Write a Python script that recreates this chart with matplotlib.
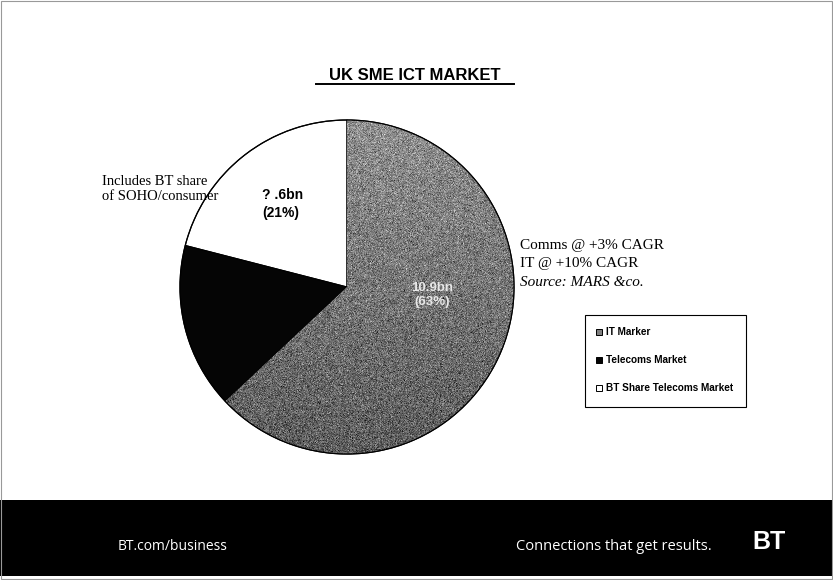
import numpy as np
import matplotlib.pyplot as plt
from matplotlib.patches import Rectangle, Circle

# ---------------------------------------------
# DATA
# ---------------------------------------------
segments = ["IT Marker", "Telecoms Market", "BT Share Telecoms Market"]
shares = [63, 16, 21]                      # % of UK SME ICT market
amounts = ["10.9bn", "", "? .6bn"]          # labels printed on the slices
colours = ["#808080", "#050505", "#ffffff"]

notes_right = ["Comms @ +3% CAGR", "IT @ +10% CAGR", "Source: MARS &co."]
note_left = "Includes BT share\nof SOHO/consumer"

# ---------------------------------------------
# CANVAS (pixel units, y up)
# ---------------------------------------------
W, H = 833, 580
fig = plt.figure(figsize=(W / 100, H / 100), dpi=100)
ax = fig.add_axes([0, 0, 1, 1])

cx, cy, r = 347, 293, 167

wedges, _ = ax.pie(shares, colors=colours, startangle=90, counterclock=False,
                   center=(cx, cy), radius=r,
                   wedgeprops=dict(edgecolor="black", linewidth=0.8))
# black slice sits over the side note, white one under it
wedges[2].set_zorder(1)
wedges[1].set_zorder(2)
wedges[0].set_zorder(2)

# grainy fill for the IT slice
rng = np.random.default_rng(7)
n = 480
shade = np.linspace(0.56, 0.36, n)[:, None]
tex = np.clip(rng.normal(0, 0.10, (n, n)) + shade, 0, 1)
im = ax.imshow(tex, cmap="gray", vmin=0, vmax=1, interpolation="nearest",
               extent=(cx - r, cx + r, cy - r, cy + r), zorder=2.1)
im.set_clip_path(wedges[0])
ax.add_patch(Circle((cx, cy), r, fill=False, edgecolor="black", lw=0.9, zorder=3))

# slice labels
ax.text(432, 285, f"{amounts[0]}\n({shares[0]}%)", color="#e8e8e8", fontsize=9.5,
        fontweight="bold", family="Liberation Sans", ha="center", va="center",
        linespacing=1.3, zorder=4)
ax.text(262, 376, f"{amounts[2]}\n({shares[2]}%)", color="black", fontsize=10,
        fontweight="bold", family="Liberation Sans", ha="left", va="center",
        linespacing=1.35, zorder=4)

# title
ax.text(415, 505, "UK SME ICT MARKET", fontsize=12, fontweight="bold",
        family="Liberation Sans", ha="center", va="center")
ax.plot([316, 514], [496, 496], color="black", lw=1.4)

# side notes
ax.text(102, 391, note_left, fontsize=10.5, family="Liberation Serif",
        ha="left", va="center", linespacing=1.15, zorder=1.5)
for i, line in enumerate(notes_right):
    ax.text(520, 335 - i * 18.5, line, fontsize=11, family="Liberation Serif",
            style="italic" if i == 2 else "normal", ha="left", va="center")

# legend box
ax.add_patch(Rectangle((585, 173), 161, 92, fill=False, edgecolor="black", lw=0.8))
for i, (lab, col) in enumerate(zip(segments, colours)):
    y = 248 - i * 28
    ax.add_patch(Rectangle((596, y - 3), 6, 6, facecolor=col, edgecolor="black", lw=0.7))
    ax.text(606, y, lab, fontsize=7.2, fontweight="bold", family="Liberation Sans",
            ha="left", va="center")

# footer band
ax.add_patch(Rectangle((0, 4), W, 76, facecolor="black", edgecolor="none"))
ax.text(118, 34, "BT.com/business", color="white", fontsize=10,
        family="Open Sans", ha="left", va="center")
ax.text(712, 34, "Connections that get results.", color="white", fontsize=10.5,
        family="Open Sans", ha="right", va="center")
ax.text(752, 38, "BT", color="white", fontsize=18, fontweight="bold",
        family="Liberation Sans", ha="left", va="center")

# outer frame
ax.add_patch(Rectangle((1, 1), W - 2, H - 2, fill=False, edgecolor="#999999", lw=0.8))

ax.set_xlim(0, W)
ax.set_ylim(0, H)
ax.set_aspect("auto")
ax.axis("off")

fig.savefig("out.png", dpi=100, facecolor="white")
